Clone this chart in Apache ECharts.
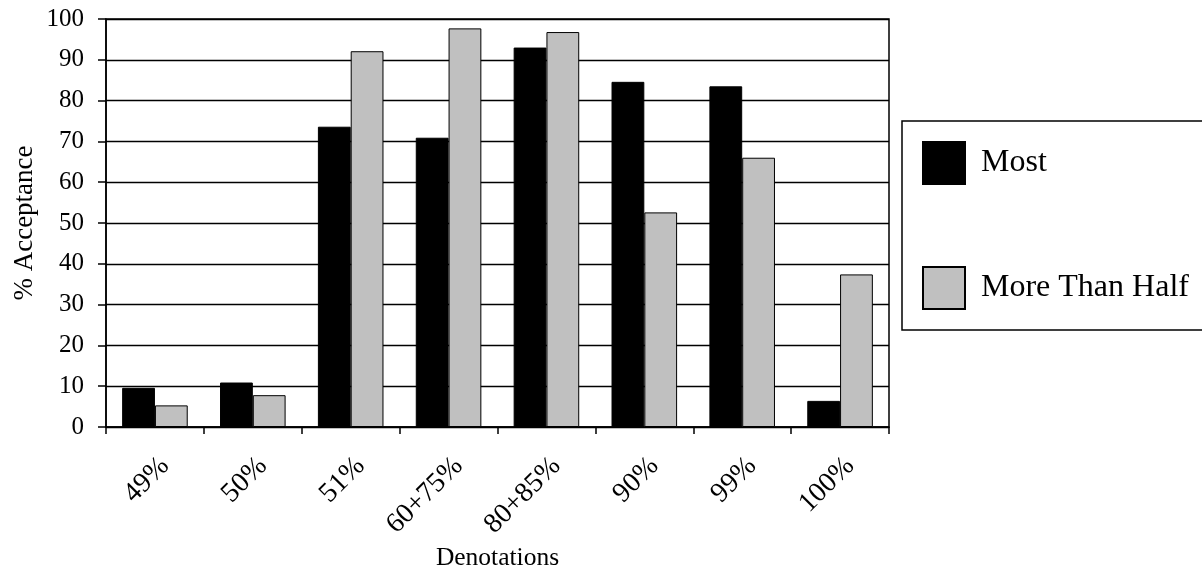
<!DOCTYPE html>
<html>
<head>
<meta charset="utf-8">
<script src="https://cdn.jsdelivr.net/npm/echarts@6/dist/echarts.min.js"></script>
<style>html,body{margin:0;padding:0;background:#fff;}#c{width:1202px;height:573px;}</style>
</head>
<body>
<div id="c"></div>
<script>
const categories = ['49%', '50%', '51%', '60+75%', '80+85%', '90%', '99%', '100%'];
const most = [9.6, 10.9, 73.6, 70.9, 93.0, 84.6, 83.5, 6.4];
const moreThanHalf = [5.3, 7.8, 92.1, 97.7, 96.8, 52.6, 66.0, 37.4];
const yTicks = [0, 10, 20, 30, 40, 50, 60, 70, 80, 90, 100];

const font = 'Liberation Serif';
const chart = echarts.init(document.getElementById('c'));
chart.setOption({
  animation: false,
  backgroundColor: '#fff',
  textStyle: { fontFamily: font, color: '#000' },
  grid: { left: 106, right: 313, top: 19, bottom: 146, outerBoundsMode: 'none', containLabel: false,
          show: true, borderColor: '#000', borderWidth: 1.5 },
  legend: {
    orient: 'vertical',
    left: 902, top: 121,
    padding: [20, 60, 20, 20],
    itemWidth: 42, itemHeight: 42, itemGap: 81,
    borderColor: '#000', borderWidth: 1.5,
    icon: 'rect',
    textStyle: { fontFamily: font, fontSize: 32, color: '#000', padding: [0, 0, 0, 11] },
    data: ['Most', 'More Than Half']
  },
  xAxis: {
    type: 'category',
    data: categories,
    name: 'Denotations',
    nameLocation: 'middle',
    nameGap: 118,
    nameMoveOverlap: false,
    nameTextStyle: { fontFamily: font, fontSize: 25.5, color: '#000' },
    axisLine: { lineStyle: { color: '#000', width: 1.5 } },
    axisTick: { show: true, length: 7, lineStyle: { color: '#000', width: 1.5 }, alignWithLabel: false },
    axisLabel: { rotate: 45, margin: 25, verticalAlign: 'top', fontFamily: font, fontSize: 28, color: '#000' }
  },
  yAxis: {
    type: 'value',
    min: yTicks[0], max: yTicks[yTicks.length - 1], interval: 10,
    name: '% Acceptance',
    nameLocation: 'middle',
    nameGap: 68,
    nameMoveOverlap: false,
    nameTextStyle: { fontFamily: font, fontSize: 27, color: '#000' },
    axisLine: { show: true, lineStyle: { color: '#000', width: 1.5 } },
    axisTick: { show: true, length: 8, lineStyle: { color: '#000', width: 1.5 } },
    axisLabel: { margin: 22, fontFamily: font, fontSize: 25, color: '#000' },
    splitLine: { show: true, lineStyle: { color: '#000', width: 1.3 } }
  },
  series: [
    {
      name: 'Most', type: 'bar', data: most,
      barGap: '0%', barCategoryGap: '33%',
      itemStyle: { color: '#000', borderColor: '#000', borderWidth: 1 }
    },
    {
      name: 'More Than Half', type: 'bar', data: moreThanHalf,
      barGap: '0%', barCategoryGap: '33%',
      itemStyle: { color: '#c0c0c0', borderColor: '#000', borderWidth: 1 }
    }
  ]
});
</script>
</body>
</html>
